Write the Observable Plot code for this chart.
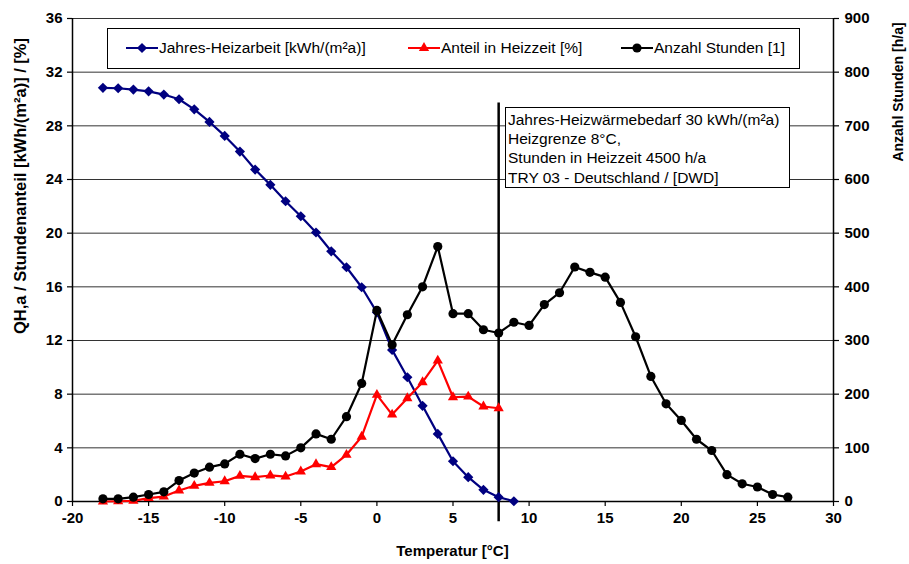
<!DOCTYPE html>
<html>
<head>
<meta charset="utf-8">
<script src="https://cdn.jsdelivr.net/npm/d3@7"></script>
<script src="https://cdn.jsdelivr.net/npm/@observablehq/plot@0.6"></script>
<style>
  body { margin: 0; background: #fff; }
  #chart { position: relative; width: 909px; height: 564px; }
</style>
</head>
<body>
<div id="chart"></div>
<script>
// Temperature classes [°C]
const tempsHeat = [-18, -17, -16, -15, -14, -13, -12, -11, -10, -9, -8, -7, -6, -5, -4, -3, -2, -1, 0, 1, 2, 3, 4, 5, 6, 7, 8, 9];
const tempsShare = [-18, -17, -16, -15, -14, -13, -12, -11, -10, -9, -8, -7, -6, -5, -4, -3, -2, -1, 0, 1, 2, 3, 4, 5, 6, 7, 8];
const tempsHours = [-18, -17, -16, -15, -14, -13, -12, -11, -10, -9, -8, -7, -6, -5, -4, -3, -2, -1, 0, 1, 2, 3, 4, 5, 6, 7, 8, 9, 10, 11, 12, 13, 14, 15, 16, 17, 18, 19, 20, 21, 22, 23, 24, 25, 26, 27];

// Jahres-Heizarbeit [kWh/(m²a)] (cumulative from each temperature class)
const heizarbeit = [30.83, 30.8, 30.7, 30.57, 30.33, 29.98, 29.23, 28.29, 27.25, 26.08, 24.74, 23.6, 22.38, 21.26, 20.05, 18.65, 17.46, 15.97, 14.1, 11.3, 9.26, 7.13, 5.04, 3.0, 1.81, 0.87, 0.32, 0.02];

// Anteil in Heizzeit [%]
const anteil = [0, 0.02, 0.05, 0.25, 0.37, 0.82, 1.17, 1.39, 1.51, 1.91, 1.81, 1.94, 1.86, 2.24, 2.78, 2.56, 3.48, 4.83, 7.95, 6.48, 7.7, 8.89, 10.5, 7.77, 7.82, 7.08, 6.95];

// Anzahl Stunden [h/a] per temperature class
const stunden = [5, 5, 8, 13, 18, 39, 53, 64, 70, 88, 80, 88, 85, 100, 126, 116, 158, 220, 356, 292, 348, 400, 475, 350, 350, 320, 314, 334, 328, 367, 389, 437, 427, 418, 371, 307, 233, 182, 151, 116, 95, 50, 33, 27, 13, 8];

// Axis ticks
const xTicks = [-20, -15, -10, -5, 0, 5, 10, 15, 20, 25, 30];
const yTicks = [0, 4, 8, 12, 16, 20, 24, 28, 32, 36];
const hoursPerUnit = 25; // right axis: 900 h/a corresponds to 36 on the left axis

// Heating limit and annotation
const heizgrenze = 8;
const noteLines = [
  "Jahres-Heizwärmebedarf 30 kWh/(m²a)",
  "Heizgrenze 8°C,",
  "Stunden in Heizzeit 4500 h/a",
  "TRY 03 - Deutschland / [DWD]"
];

const legendItems = [
  {label: "Jahres-Heizarbeit [kWh/(m²a)]", color: "#000080", symbol: d3.symbolDiamond2, r: 4.6},
  {label: "Anteil in Heizzeit [%]", color: "#ff0000", symbol: d3.symbolTriangle, r: 3.8},
  {label: "Anzahl Stunden [1]", color: "#000000", symbol: d3.symbolCircle, r: 4.6}
];

const heatData = tempsHeat.map((t, i) => ({t, v: heizarbeit[i]}));
const shareData = tempsShare.map((t, i) => ({t, v: anteil[i]}));
const hoursData = tempsHours.map((t, i) => ({t, v: stunden[i] / hoursPerUnit}));

const FONT = "'Liberation Sans', Arial, sans-serif";
const plain = d => String(d); // hyphen-minus, as in the original spreadsheet labels

const chart = Plot.plot({
  width: 909,
  height: 564,
  marginLeft: 72,
  marginRight: 76,
  marginTop: 18,
  marginBottom: 63,
  style: {fontFamily: FONT, fontSize: "15px", fontWeight: "bold", color: "#000", background: "#fff", overflow: "visible"},
  x: {domain: [-20, 30]},
  y: {domain: [0, 36]},
  marks: [
    Plot.ruleY(yTicks.filter(d => d > 0), {stroke: "#333", strokeWidth: 1}),
    Plot.ruleX([-20, 30], {y1: 0, y2: 36, stroke: "#000", strokeWidth: 1.5}),
    Plot.ruleY([0], {stroke: "#000", strokeWidth: 1.5}),
    Plot.axisX({ticks: xTicks, tickFormat: plain, tickSize: 5, tickPadding: 6, label: null, strokeWidth: 1.2}),
    Plot.axisY({anchor: "left", ticks: yTicks, tickFormat: plain, tickSize: 5, tickPadding: 5, label: null, strokeWidth: 1.2}),
    Plot.axisY({anchor: "right", ticks: yTicks, tickFormat: d => String(d * hoursPerUnit), tickSize: 5, tickPadding: 6, label: null, strokeWidth: 1.2}),
    Plot.ruleX([heizgrenze], {y1: -1.5, y2: 29.7, stroke: "#000", strokeWidth: 2.5}),
    Plot.line(heatData, {x: "t", y: "v", stroke: "#000080", strokeWidth: 2.2}),
    Plot.dot(heatData, {x: "t", y: "v", symbol: "diamond2", fill: "#000080", r: 4.6}),
    Plot.line(shareData, {x: "t", y: "v", stroke: "#ff0000", strokeWidth: 2.2}),
    Plot.dot(shareData, {x: "t", y: "v", symbol: "triangle", fill: "#ff0000", r: 3.8}),
    Plot.line(hoursData, {x: "t", y: "v", stroke: "#000", strokeWidth: 2.2}),
    Plot.dot(hoursData, {x: "t", y: "v", symbol: "circle", fill: "#000", r: 4.6})
  ]
});

document.getElementById("chart").appendChild(chart);
const svg = d3.select(chart);

// Axis titles
svg.append("text")
  .attr("x", 452.5).attr("y", 556)
  .attr("text-anchor", "middle")
  .style("font", `bold 15px ${FONT}`)
  .text("Temperatur [°C]");

svg.append("text")
  .attr("transform", "translate(20,186) rotate(-90)")
  .attr("text-anchor", "middle").attr("dy", "0.35em")
  .style("font", `bold 16.5px ${FONT}`)
  .text("QH,a / Stundenanteil [kWh/(m²a)] / [%]");

svg.append("text")
  .attr("transform", "translate(898,92) rotate(-90)")
  .attr("text-anchor", "middle").attr("dy", "0.35em")
  .style("font", `bold 14px ${FONT}`)
  .text("Anzahl Stunden [h/a]");

// Legend
const lg = svg.append("g");
lg.append("rect").attr("x", 107.5).attr("y", 28.5).attr("width", 692).attr("height", 40)
  .attr("fill", "#fff").attr("stroke", "#000").attr("stroke-width", 1);
const legendX = [126, 408, 621];
legendItems.forEach((it, i) => {
  const x0 = legendX[i], cy = 48;
  lg.append("line").attr("x1", x0).attr("x2", x0 + 32).attr("y1", cy).attr("y2", cy)
    .attr("stroke", it.color).attr("stroke-width", 2);
  lg.append("path").attr("transform", `translate(${x0 + 16},${cy})`)
    .attr("d", d3.symbol(it.symbol, Math.PI * it.r * it.r)()).attr("fill", it.color);
  lg.append("text").attr("x", x0 + 33).attr("y", cy).attr("dy", "0.35em")
    .attr("text-anchor", "start")
    .style("font", `15.5px ${FONT}`).text(it.label);
});

// Annotation box
const nb = svg.append("g");
nb.append("rect").attr("x", 505.5).attr("y", 107.5).attr("width", 284).attr("height", 80)
  .attr("fill", "#fff").attr("stroke", "#000").attr("stroke-width", 1);
noteLines.forEach((s, i) => {
  nb.append("text").attr("x", 508).attr("y", 119.5 + i * 19.2).attr("dy", "0.35em")
    .attr("text-anchor", "start")
    .style("font", `15.5px ${FONT}`).text(s);
});
</script>
</body>
</html>
